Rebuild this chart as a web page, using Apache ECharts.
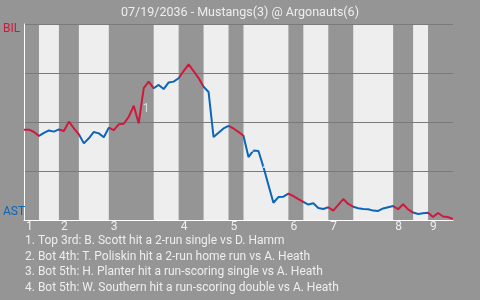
<!DOCTYPE html>
<html><head><meta charset="utf-8">
<script src="https://cdn.jsdelivr.net/npm/echarts@6/dist/echarts.min.js"></script>
<style>html,body{margin:0;padding:0;background:#959595;}#c{width:480px;height:300px;}</style>
</head><body><div id="c"></div>
<script>
// ---- data ----
const titleText = '07/19/2036 - Mustangs(3) @ Argonauts(6)';
const awayAbbr = 'BIL';
const homeAbbr = 'AST';
// away-team (BIL) win probability, %, one value per play
const winProb = [
  46.1, 46.1, 44.9, 42.9, 44.4, 45.7, 45.1, 46.2, 45.4, 50.2,
  46.8, 43.7, 39.1, 41.7, 44.9, 44.2, 42.2, 47.1, 45.9, 48.8,
  49.1, 52.6, 58.3, 49.3, 67.3, 70.6, 67.2, 68.9, 66.8, 70.2,
  70.6, 72.3, 76.0, 79.4, 76.0, 72.4, 68.0, 65.3, 42.3, 44.5,
  46.7, 48.0, 46.7, 44.9, 43.0, 32.1, 35.5, 35.2, 27.0, 17.9,
  8.8, 11.7, 11.9, 13.5, 12.2, 10.7, 9.3, 7.9, 8.5, 6.1,
  5.6, 6.5, 4.8, 7.7, 10.7, 8.2, 6.8, 6.0, 5.6, 5.5,
  4.8, 4.6, 5.9, 6.5, 7.1, 5.5, 8.0, 5.4, 3.8, 3.1,
  3.4, 3.7, 1.5, 3.6, 1.8, 1.5, 0.5
];
// play index where each half-inning starts (Top 1, Bot 1, ..., Top 9) and the final play
const halfBounds = [0, 3, 7, 11, 17, 26, 31, 36, 41, 44, 53, 56, 61, 66, 74, 78, 81, 86];
const inningLabels = ['1', '2', '3', '4', '5', '6', '7', '8', '9'];
const eventMarks = ['1', '2', '3', '4'];
const eventX = [24.5, 38.5, 45.5, 48.5];
const eventY = [56.6, 52.6, 36.2, 27.0];
const eventNotes = [
  '1. Top 3rd: B. Scott hit a 2-run single vs D. Hamm',
  '2. Bot 4th: T. Poliskin hit a 2-run home run vs A. Heath',
  '3. Bot 5th: H. Planter hit a run-scoring single vs A. Heath',
  '4. Bot 5th: W. Southern hit a run-scoring double vs A. Heath'
];

// ---- style ----
const BG = '#959595', LIGHT = '#eeeeee', GRID = '#7a7a7a', TXT = '#eeeeee';
const RED = '#d0173c', BLUE = '#0b66b8';
const FONT = 'Roboto';

const lineData = winProb.map((v, i) => [i, v]);
const bottomHalves = [];
const pieces = [];
for (let k = 0; k < halfBounds.length - 1; k++) {
  const p = { gte: halfBounds[k], color: k % 2 === 0 ? RED : BLUE };
  if (k < halfBounds.length - 2) p.lt = halfBounds[k + 1]; else p.lte = halfBounds[k + 1];
  pieces.push(p);
  if (k % 2 === 1) bottomHalves.push([halfBounds[k], halfBounds[k + 1]]);
}
const topStarts = halfBounds.filter((_, k) => k % 2 === 0 && k < halfBounds.length - 1);
const xMax = halfBounds[halfBounds.length - 1];

const chart = echarts.init(document.getElementById('c'), null, { renderer: 'canvas' });
chart.setOption({
  backgroundColor: BG,
  animation: false,
  textStyle: { fontFamily: FONT },
  title: {
    text: titleText, left: 'center', top: 1,
    textStyle: { color: TXT, fontSize: 12.5, fontWeight: 'normal', fontFamily: FONT }
  },
  grid: { left: 23, right: 27, top: 24, bottom: 80 },
  xAxis: {
    type: 'value', min: 0, max: xMax, z: 2,
    axisLine: { show: true, lineStyle: { color: '#ffffff', width: 1 } },
    axisTick: { show: false },
    splitLine: { show: false },
    axisLabel: {
      customValues: topStarts, color: TXT, fontSize: 12, fontFamily: FONT,
      align: 'left', padding: [0, 0, 0, 2], margin: 1,
      formatter: v => inningLabels[topStarts.indexOf(v)] || ''
    }
  },
  yAxis: {
    type: 'value', min: 0, max: 100, interval: 25, z: 2,
    axisLine: { show: true, lineStyle: { color: '#ffffff', width: 1 } },
    axisTick: { show: false },
    splitLine: { show: true, lineStyle: { color: GRID, width: 1 } },
    axisLabel: {
      align: 'left', margin: 21, fontSize: 12, fontFamily: FONT,
      formatter: v => v === 100 ? '{a|' + awayAbbr + '}' : (v === 0 ? '{h|' + homeAbbr + '}' : ''),
      rich: {
        a: { color: RED, fontSize: 12, fontFamily: FONT, padding: [9, 0, 0, 0] },
        h: { color: BLUE, fontSize: 12, fontFamily: FONT, padding: [0, 0, 17, 0] }
      }
    }
  },
  visualMap: {
    show: false, type: 'piecewise', dimension: 0, seriesIndex: 1, pieces: pieces
  },
  series: [
    {
      type: 'custom', z: 1, silent: true,
      data: bottomHalves,
      encode: { x: [0, 1] },
      renderItem: (params, api) => {
        const s = api.coord([api.value(0), 100]);
        const e = api.coord([api.value(1), 0]);
        return { type: 'rect', shape: { x: s[0], y: s[1], width: e[0] - s[0], height: e[1] - s[1] }, style: { fill: LIGHT } };
      }
    },
    {
      type: 'line', z: 3, data: lineData, showSymbol: false, symbol: 'none',
      lineStyle: { width: 2 }
    },
    {
      type: 'scatter', z: 4, symbolSize: 0, silent: true,
      data: eventX.map((x, i) => [x, eventY[i]]),
      label: {
        show: true, position: 'inside', color: LIGHT, fontSize: 12, fontFamily: FONT,
        formatter: p => eventMarks[p.dataIndex]
      }
    }
  ],
  graphic: eventNotes.map((t, i) => ({
    type: 'text', left: 25, top: 235 + i * 15.7,
    style: { text: t, fill: TXT, fontSize: 12, fontFamily: FONT }
  }))
});
</script>
</body></html>
